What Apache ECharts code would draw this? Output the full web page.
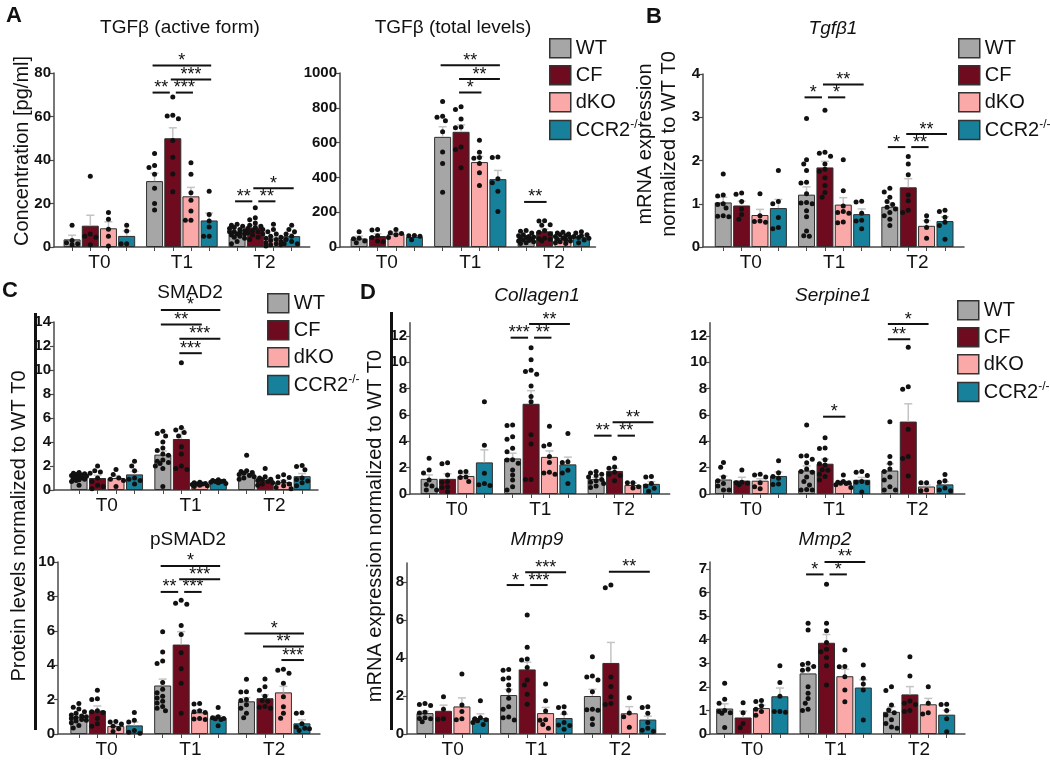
<!DOCTYPE html>
<html>
<head>
<meta charset="utf-8">
<script src="https://cdn.jsdelivr.net/npm/echarts@6/dist/echarts.min.js"></script>
<style>
  html, body { margin: 0; padding: 0; background: #fff; }
  #main { width: 1050px; height: 763px; }
</style>
</head>
<body>
<div id="main"></div>
<script>
var FONT = 'Liberation Sans, Arial, sans-serif';
var groups = ['WT', 'CF', 'dKO', 'CCR2-/-'];
var times = ['T0', 'T1', 'T2'];
var colors = ['#a6a6a6', '#6e0b1f', '#fba8a8', '#17809b'];

// rows: WT, CF, dKO, CCR2-/- ; columns: T0, T1, T2
// significance rows: [time, from group, to group, bracket height, stars]

// TGFb active form [pg/ml]
var activeTicks = [0, 20, 40, 60, 80];
var activeMean = [[3.5, 30.3, 6.5], [9.8, 50, 9.0], [8.6, 23.3, 4.0], [5.1, 12.2, 5.0]];
var activeSem = [[1.9, 3.6, 0.6], [4.8, 4.8, 1.0], [3.0, 4.1, 0.7], [2.3, 3.4, 1.0]];
var activePts = [
  [[10, 3, 2, 1.5, 1], [43, 37.5, 36.5, 33.5, 27, 20, 17], [10.5, 10, 9.5, 9, 8.5, 8, 7.5, 7, 7, 6.5, 6, 6, 5.5, 5, 4.5, 4, 2.5, 1.5]],
  [[32.5, 6, 5, 4.5, 1], [69, 60.6, 60.2, 59, 49, 41.3, 33.6, 25.4], [18, 13.5, 12.5, 11, 10, 9.5, 9, 8.5, 8, 7.5, 7, 6.5, 6, 5.5, 4.5, 3.5]],
  [[15.9, 12.8, 8.2, 5, 0.5], [38.7, 33.5, 25, 21.5, 16.5, 12.3, 12.3], [10.5, 8, 7, 6, 5, 4.5, 4, 3.5, 3, 2.5, 2, 1.5, 1, 1, 0.5]],
  [[10, 7.4, 1.5, 1.5], [25.6, 15, 12, 9.2, 5, 5], [10, 8, 7, 6, 5, 3.5, 2.5, 1.5, 1.5]]
];
var activeSig = [[1, 0, 3, 83.5, '*'], [1, 1, 3, 77, '***'], [1, 0, 1, 71, '**'], [1, 1, 2, 71, '***'],
  [2, 0, 1, 21, '**'], [2, 1, 2, 21, '**'], [2, 1, 3, 27, '*']];

// TGFb total levels
var totalTicks = [0, 200, 400, 600, 800, 1000];
var totalMean = [[49, 633, 54], [63, 662, 90], [77, 488, 53], [58, 390, 59]];
var totalSem = [[14, 58, 6], [13, 40, 13], [9, 32, 5], [6, 50, 7]];
var totalPts = [
  [[88, 50, 48, 35, 25], [836, 752, 745, 726, 662, 546, 480, 314], [95, 90, 80, 70, 65, 60, 58, 55, 50, 45, 40, 38, 35, 30, 25, 20]],
  [[100, 97, 65, 55, 35, 30], [806, 790, 735, 690, 685, 575, 560, 455], [151, 150, 128, 125, 95, 85, 75, 50, 48, 45, 35]],
  [[100, 82, 78, 70, 55], [614, 545, 515, 510, 480, 427, 353], [85, 80, 75, 70, 65, 60, 55, 50, 45, 40, 35, 30, 25, 20]],
  [[66, 64, 62, 42], [517, 515, 392, 369, 320, 204], [88, 80, 70, 65, 60, 55, 50, 40, 25]]
];
var totalSig = [[1, 0, 3, 1044, '**'], [1, 1, 3, 965, '**'], [1, 1, 2, 888, '*'], [2, 0, 1, 259, '**']];

// Tgfb1 mRNA
var tgfTicks = [0, 1, 2, 3, 4];
var tgfMean = [[1.03, 1.21, 0.93], [0.96, 1.84, 1.38], [0.74, 0.98, 0.49], [0.9, 0.76, 0.6]];
var tgfSem = [[0.12, 0.18, 0.09], [0.1, 0.14, 0.2], [0.13, 0.16, 0.12], [0.2, 0.12, 0.1]];
var tgfPts = [
  [[1.69, 1.2, 1.18, 1.0, 0.98, 0.9, 0.72, 0.71, 0.7], [2.97, 2.02, 1.92, 1.77, 1.5, 1.48, 1.23, 1.03, 1.02, 1.0, 0.84, 0.7, 0.37, 0.26, 0.25], [1.36, 1.27, 1.15, 1.05, 0.98, 0.92, 0.88, 0.8, 0.72, 0.64, 0.5]],
  [[1.25, 1.22, 1.05, 0.88, 0.75, 0.64], [3.16, 2.19, 2.17, 2.1, 1.92, 1.8, 1.75, 1.6, 1.42, 1.26, 1.15], [2.09, 1.92, 1.67, 1.2, 1.07, 0.85, 0.8]],
  [[1.23, 0.72, 0.6, 0.59, 0.57], [2.02, 1.3, 0.95, 0.82, 0.8, 0.78, 0.58, 0.56], [0.72, 0.6, 0.45, 0.2]],
  [[1.77, 1.05, 1.0, 0.68, 0.45, 0.42], [1.06, 1.04, 0.78, 0.62, 0.6, 0.42], [0.85, 0.82, 0.69, 0.57, 0.5, 0.18]]
];
var tgfSig = [[1, 0, 1, 3.46, '*'], [1, 1, 2, 3.46, '*'], [1, 1, 3, 3.76, '**'],
  [2, 0, 1, 2.31, '*'], [2, 1, 2, 2.31, '**'], [2, 1, 3, 2.61, '**']];

// SMAD2 protein
var smadTicks = [0, 2, 4, 6, 8, 10, 12, 14];
var smadMean = [[1.05, 2.95, 1.4], [1.0, 4.25, 0.85], [1.0, 0.5, 0.65], [1.3, 0.7, 1.15]];
var smadSem = [[0.08, 0.3, 0.18], [0.22, 0.85, 0.15], [0.2, 0.04, 0.15], [0.25, 0.03, 0.22]];
var smadPts = [
  [[1.45, 1.4, 1.35, 1.3, 1.25, 1.2, 1.15, 1.1, 1.05, 1.0, 0.95, 0.9, 0.85, 0.8, 0.7, 0.4], [4.9, 4.7, 4.5, 4.0, 3.5, 3.3, 3.0, 2.9, 2.5, 2.4, 2.3, 2.2, 2.0, 1.8, 0.3], [2.9, 1.6, 1.55, 1.45, 1.4, 1.3, 1.2, 1.1, 1.0, 0.9]],
  [[2.0, 1.6, 1.5, 1.4, 1.0, 0.7, 0.4, 0.3, 0.1], [10.6, 5.2, 5.0, 4.8, 4.5, 3.6, 3.0, 2.0, 1.8, 1.7], [1.8, 1.1, 1.0, 0.9, 0.85, 0.8, 0.7, 0.6, 0.5, 0.4]],
  [[1.7, 1.3, 1.0, 0.9, 0.8, 0.3], [0.65, 0.6, 0.55, 0.5, 0.5, 0.45, 0.4, 0.35, 0.3], [1.27, 1.1, 1.05, 0.7, 0.6, 0.5, 0.35, 0.2, 0.1]],
  [[2.4, 2.0, 1.6, 1.0, 0.9, 0.8, 0.5], [0.85, 0.8, 0.75, 0.7, 0.7, 0.65, 0.6, 0.55], [2.05, 1.95, 1.68, 1.0, 0.87, 0.75, 0.6, 0.35]]
];
var smadSig = [[1, 0, 3, 15.0, '*'], [1, 0, 2, 13.8, '**'], [1, 1, 3, 12.6, '***'], [1, 1, 2, 11.4, '***']];

// pSMAD2 protein
var psmadTicks = [0, 2, 4, 6, 8, 10];
var psmadMean = [[1.0, 2.82, 1.9], [1.36, 5.2, 2.08], [0.46, 1.26, 2.42], [0.5, 0.94, 0.62]];
var psmadSem = [[0.09, 0.37, 0.22], [0.27, 0.75, 0.2], [0.08, 0.14, 0.35], [0.2, 0.12, 0.2]];
var psmadPts = [
  [[1.78, 1.55, 1.45, 1.3, 1.2, 1.1, 1.05, 1.0, 0.95, 0.9, 0.85, 0.8, 0.75, 0.65, 0.5, 0.35], [5.95, 4.77, 4.25, 4.1, 3.0, 2.6, 2.4, 2.2, 2.1, 1.9, 1.8, 1.6, 1.5, 1.35], [3.18, 2.46, 2.44, 2.0, 1.95, 1.7, 1.5, 1.2, 0.95]],
  [[2.55, 2.05, 2.0, 1.35, 1.3, 1.25, 0.9, 0.6, 0.45], [7.78, 7.6, 7.55, 6.31, 5.79, 4.73, 3.8, 2.95, 1.2], [3.2, 2.75, 2.55, 2.2, 1.95, 1.9, 1.6, 1.55, 1.5]],
  [[0.73, 0.7, 0.58, 0.45, 0.3, 0.15], [1.78, 1.75, 1.35, 1.3, 1.25, 0.9, 0.87, 0.85], [3.76, 3.7, 3.53, 2.95, 2.17, 1.59, 1.2, 0.91]],
  [[1.25, 0.8, 0.7, 0.2, 0.1, 0.05], [1.54, 1.0, 0.95, 0.9, 0.88, 0.85, 0.48], [1.24, 1.2, 0.6, 0.4, 0.33, 0.3, 0.2]]
];
var psmadSig = [[1, 0, 3, 9.77, '*'], [1, 1, 3, 9.0, '***'], [1, 0, 1, 8.26, '**'], [1, 1, 2, 8.26, '***'],
  [2, 0, 3, 5.85, '*'], [2, 1, 3, 5.08, '**'], [2, 2, 3, 4.3, '***']];

// Collagen1 mRNA
var colTicks = [0, 2, 4, 6, 8, 10, 12];
var colMean = [[1.15, 2.7, 1.13], [1.15, 6.85, 1.75], [1.37, 2.82, 0.68], [2.4, 2.25, 0.77]];
var colSem = [[0.3, 0.4, 0.12], [0.38, 1.0, 0.2], [0.15, 0.45, 0.15], [0.95, 0.55, 0.17]];
var colPts = [
  [[2.71, 1.82, 1.6, 1.06, 0.73, 0.6, 0.3, 0.3], [5.24, 5.2, 4.35, 4.15, 3.47, 3.2, 2.6, 2.58, 2.33, 1.82, 1.44, 1.06, 0.56, 0.3], [1.7, 1.6, 1.5, 1.4, 1.3, 1.1, 1.0, 0.9, 0.8, 0.6, 0.5]],
  [[2.38, 2.3, 1.44, 0.94, 0.9, 0.56, 0.5, 0.18], [11.1, 10.2, 9.4, 9.3, 9.1, 8.2, 7.4, 7.0, 4.5, 3.8, 1.1, 1.1], [2.71, 2.05, 1.95, 1.65, 1.5, 1.4, 1.0]],
  [[1.7, 1.68, 1.3, 1.25, 0.94], [5.15, 3.75, 3.65, 2.85, 2.4, 1.65, 1.6, 1.5], [0.86, 0.85, 0.55, 0.45]],
  [[7.0, 3.7, 1.57, 0.8, 0.7, 0.65], [4.6, 2.45, 2.4, 1.8, 1.6, 0.8], [1.32, 1.3, 0.8, 0.6, 0.43, 0.2]]
];
var colSig = [[1, 0, 1, 11.87, '***'], [1, 1, 2, 11.87, '**'], [1, 1, 3, 12.9, '**'],
  [2, 0, 1, 4.43, '**'], [2, 1, 2, 4.43, '**'], [2, 1, 3, 5.44, '**']];

// Serpine1 mRNA
var serTicks = [0, 2, 4, 6, 8, 10, 12];
var serMean = [[1.1, 1.78, 1.78], [1.02, 2.3, 5.5], [1.01, 0.87, 0.57], [1.37, 1.08, 0.73]];
var serSem = [[0.25, 0.35, 0.5], [0.25, 0.35, 1.35], [0.15, 0.1, 0.12], [0.3, 0.18, 0.2]];
var serPts = [
  [[2.4, 2.03, 1.3, 1.0, 0.8, 0.6, 0.3, 0.3], [5.24, 2.9, 2.88, 2.63, 2.38, 1.9, 1.7, 1.65, 1.3, 0.94, 0.68, 0.35, 0.3, 0.3], [5.49, 2.84, 2.33, 1.9, 1.7, 1.3, 1.06, 0.56, 0.3, 0.3]],
  [[1.82, 0.9, 0.85, 0.82, 0.7], [4.28, 3.5, 3.45, 2.6, 2.3, 2.2, 1.85, 1.8, 1.5, 1.32, 1.06], [11.14, 8.15, 7.95, 4.91, 2.84, 2.7, 1.37]],
  [[1.5, 1.45, 1.3, 0.86, 0.56, 0.4], [1.44, 0.95, 0.9, 0.85, 0.82, 0.8, 0.7, 0.5], [0.86, 0.85, 0.3, 0.25]],
  [[2.53, 1.62, 1.32, 1.2, 0.75, 0.72], [1.7, 1.65, 1.4, 0.95, 0.9, 0.85, 0.15], [1.49, 1.0, 0.9, 0.45, 0.3, 0.25]]
];
var serSig = [[1, 1, 2, 5.87, '*'], [2, 0, 1, 11.75, '**'], [2, 0, 2, 12.9, '*']];

// Mmp9 mRNA
var mmp9Ticks = [0, 2, 4, 6, 8];
var mmp9Mean = [[1.1, 2.05, 2.0], [1.22, 3.4, 3.74], [1.45, 1.1, 1.09], [0.84, 0.84, 0.76]];
var mmp9Sem = [[0.1, 0.3, 0.35], [0.3, 0.38, 1.08], [0.45, 0.3, 0.35], [0.22, 0.2, 0.18]];
var mmp9Pts = [
  [[1.6, 1.55, 1.5, 1.15, 1.1, 0.85, 0.82, 0.8, 0.65], [3.4, 3.35, 2.95, 2.9, 2.58, 2.3, 1.88, 1.44, 1.3, 0.9, 0.85, 0.74], [4.07, 3.05, 3.0, 2.84, 2.23, 1.3, 1.28, 1.25, 0.8, 0.5]],
  [[1.96, 1.3, 0.8, 0.77], [6.26, 4.56, 3.95, 3.9, 3.5, 2.84, 2.58, 2.09, 1.56], [7.84, 7.7, 3.0, 2.5, 1.96, 1.6, 1.55]],
  [[3.16, 1.53, 1.18, 0.8, 0.75], [2.63, 1.75, 1.21, 0.75, 0.72, 0.5, 0.3], [1.91, 1.1, 0.91, 0.35]],
  [[1.75, 0.85, 0.8, 0.75, 0.7, 0.6, 0.5], [1.44, 1.4, 1.1, 0.6, 0.48, 0.45, 0.25], [1.44, 1.4, 1.09, 0.6, 0.3, 0.2, 0.15]]
];
var mmp9Sig = [[1, 0, 1, 7.84, '*'], [1, 1, 2, 7.84, '***'], [1, 1, 3, 8.51, '***'], [2, 1, 3, 8.54, '**']];

// Mmp2 mRNA
var mmp2Ticks = [0, 1, 2, 3, 4, 5, 6, 7];
var mmp2Mean = [[1.08, 2.57, 0.94], [0.7, 3.87, 1.68], [1.1, 2.45, 1.26], [1.6, 1.97, 0.82]];
var mmp2Sem = [[0.2, 0.3, 0.22], [0.27, 0.35, 0.33], [0.12, 0.3, 0.25], [0.35, 0.33, 0.18]];
var mmp2Pts = [
  [[2.15, 1.47, 1.3, 1.0, 0.95, 0.9, 0.88, 0.28], [4.7, 4.41, 3.0, 2.95, 2.86, 2.75, 2.7, 2.0, 1.73, 1.51, 1.3, 1.05, 1.0], [2.0, 1.84, 1.23, 1.02, 0.9, 0.81, 0.6, 0.45, 0.3, 0.24]],
  [[1.33, 0.9, 0.45, 0.27], [6.35, 4.7, 4.38, 3.88, 3.6, 3.49, 3.25, 2.89, 2.08], [3.28, 2.46, 1.4, 1.3, 1.25, 1.0, 0.95]],
  [[1.42, 1.38, 1.2, 1.05, 0.95, 0.8], [3.56, 2.86, 2.85, 2.43, 1.87, 1.37], [2.0, 1.3, 0.9, 0.85]],
  [[2.89, 2.18, 1.6, 0.95, 0.95, 0.92], [2.93, 2.36, 2.12, 1.87, 0.59], [1.26, 1.25, 1.0, 0.65, 0.1]]
];
var mmp2Sig = [[1, 0, 1, 6.77, '*'], [1, 1, 2, 6.77, '*'], [1, 1, 3, 7.3, '**']];

// layout of the panels (pixels)
var panels = [
  {mean: activeMean, sem: activeSem, pts: activePts, sig: activeSig, ticks: activeTicks, yMax: 80, left: 54, topY: 73, zeroY: 247, band: 82.5, xMin: -0.55, xMax: 2.55},
  {mean: totalMean, sem: totalSem, pts: totalPts, sig: totalSig, ticks: totalTicks, yMax: 1000, left: 340, topY: 73, zeroY: 247, band: 83.5, xMin: -0.56, xMax: 2.5},
  {mean: tgfMean, sem: tgfSem, pts: tgfPts, sig: tgfSig, ticks: tgfTicks, yMax: 4, left: 703, topY: 74, zeroY: 247, band: 83.3, xMin: -0.574, xMax: 2.56},
  {mean: smadMean, sem: smadSem, pts: smadPts, sig: smadSig, ticks: smadTicks, yMax: 14, left: 54, topY: 322, zeroY: 490, band: 83.8, xMin: -0.63, xMax: 2.52},
  {mean: psmadMean, sem: psmadSem, pts: psmadPts, sig: psmadSig, ticks: psmadTicks, yMax: 10, left: 58, topY: 562, zeroY: 734, band: 83.8, xMin: -0.58, xMax: 2.546},
  {mean: colMean, sem: colSem, pts: colPts, sig: colSig, ticks: colTicks, yMax: 13, left: 410, topY: 322.8, zeroY: 494, band: 83.5, xMin: -0.56, xMax: 2.55},
  {mean: serMean, sem: serSem, pts: serPts, sig: serSig, ticks: serTicks, yMax: 13, left: 710, topY: 322.8, zeroY: 494, band: 83.2, xMin: -0.493, xMax: 2.57},
  {mean: mmp9Mean, sem: mmp9Sem, pts: mmp9Pts, sig: mmp9Sig, ticks: mmp9Ticks, yMax: 9, left: 407, topY: 563, zeroY: 734, band: 83.7, xMin: -0.546, xMax: 2.54},
  {mean: mmp2Mean, sem: mmp2Sem, pts: mmp2Pts, sig: mmp2Sig, ticks: mmp2Ticks, yMax: 7.3, left: 710, topY: 561.9, zeroY: 734, band: 83.4, xMin: -0.507, xMax: 2.55}
];

var offsets = [-0.331, -0.11, 0.11, 0.331];
var AXIS = '#4a4a4a';

// spread the dots of one column sideways so they do not sit on top of each other
function swarm(vals, pxPerUnit) {
  var cands = [0, -2.8, 2.8, -5.6, 5.6, -7.5, 7.5];
  var placed = [];
  return vals.map(function (v) {
    var y = v * pxPerUnit, best = 0, bestD = -1;
    for (var c = 0; c < cands.length; c++) {
      var d = Infinity;
      placed.forEach(function (p) {
        d = Math.min(d, Math.sqrt(Math.pow(p[0] - cands[c], 2) + Math.pow(p[1] - y, 2)));
      });
      if (d >= 5) { best = cands[c]; bestD = d; break; }
      if (d > bestD) { bestD = d; best = cands[c]; }
    }
    placed.push([best, y]);
    return best;
  });
}

var grid = [], xAxis = [], yAxis = [], series = [];

panels.forEach(function (p, i) {
  var width = p.band * (p.xMax - p.xMin);
  var pxPerUnit = (p.zeroY - p.topY) / p.yMax;
  var barW = Math.round(p.band * 0.205);
  grid.push({left: p.left, top: p.topY, width: width, height: p.zeroY - p.topY});

  var barX = [];
  times.forEach(function (t, g) { offsets.forEach(function (o) { barX.push(g + o); }); });

  xAxis.push({
    gridIndex: i, type: 'value', min: p.xMin, max: p.xMax,
    axisLine: {show: true, onZero: false, lineStyle: {color: AXIS, width: 1.5}},
    axisTick: {show: true, customValues: barX, length: 4, lineStyle: {color: AXIS, width: 1}},
    axisLabel: {customValues: [0, 1, 2], formatter: function (v) { return times[Math.round(v)]; },
      fontSize: 19, color: '#111', margin: 6, fontFamily: FONT},
    splitLine: {show: false}
  });
  yAxis.push({
    gridIndex: i, type: 'value', min: 0, max: p.yMax,
    axisLine: {show: true, onZero: false, lineStyle: {color: AXIS, width: 1.5}},
    axisTick: {show: true, customValues: p.ticks, length: 4, lineStyle: {color: AXIS, width: 1.2}},
    axisLabel: {customValues: p.ticks, formatter: function (v) { return String(v); },
      fontSize: 15, fontWeight: 'bold', color: '#111', margin: 3, fontFamily: FONT},
    splitLine: {show: false}
  });

  var errData = [], dots = [];
  groups.forEach(function (name, k) {
    series.push({
      type: 'bar', name: name, xAxisIndex: i, yAxisIndex: i,
      barWidth: barW, barGap: '-100%', z: 2,
      itemStyle: {color: colors[k], borderColor: '#2e2e2e', borderWidth: 1},
      emphasis: {disabled: true},
      data: times.map(function (t, g) { return [g + offsets[k], p.mean[k][g]]; })
    });
    times.forEach(function (t, g) {
      var x = g + offsets[k];
      errData.push([x, p.mean[k][g], p.sem[k][g]]);
      var dx = swarm(p.pts[k][g], pxPerUnit);
      p.pts[k][g].forEach(function (v, j) { dots.push([x + dx[j] / p.band, v]); });
    });
  });

  series.push({
    type: 'custom', xAxisIndex: i, yAxisIndex: i, z: 3, silent: true,
    data: errData,
    renderItem: function (params, api) {
      var a = api.coord([api.value(0), api.value(1)]);
      var b = api.coord([api.value(0), api.value(1) + api.value(2)]);
      var st = {stroke: '#c4c4c4', lineWidth: 1.5};
      return {type: 'group', children: [
        {type: 'line', shape: {x1: a[0], y1: a[1], x2: b[0], y2: b[1]}, style: st},
        {type: 'line', shape: {x1: b[0] - 4, y1: b[1], x2: b[0] + 4, y2: b[1]}, style: st}
      ]};
    }
  });

  series.push({
    type: 'scatter', xAxisIndex: i, yAxisIndex: i, z: 4, silent: true,
    symbolSize: 5, itemStyle: {color: '#111', opacity: 1},
    data: dots
  });

  // brackets that meet at a bar at the same height leave a small gap there
  var sigData = p.sig.map(function (s) {
    var meetStart = p.sig.some(function (o) { return o !== s && o[0] === s[0] && o[3] === s[3] && o[2] === s[1]; });
    var meetEnd = p.sig.some(function (o) { return o !== s && o[0] === s[0] && o[3] === s[3] && o[1] === s[2]; });
    return [s[0] + offsets[s[1]], s[0] + offsets[s[2]], s[3], meetStart ? 1 : 0, meetEnd ? 1 : 0];
  });
  series.push({
    type: 'custom', xAxisIndex: i, yAxisIndex: i, z: 5, silent: true, clip: false,
    data: sigData,
    renderItem: function (params, api) {
      var a = api.coord([api.value(0), api.value(2)]);
      var b = api.coord([api.value(1), api.value(2)]);
      var x1 = a[0] - 2 + api.value(3) * 5, x2 = b[0] + 2 - api.value(4) * 5;
      var label = p.sig[params.dataIndex][4];
      return {type: 'group', children: [
        {type: 'line', shape: {x1: x1, y1: a[1], x2: x2, y2: b[1]}, style: {stroke: '#111', lineWidth: 2}},
        {type: 'text', style: {text: label, x: (x1 + x2) / 2, y: a[1] - 4.5, fill: '#111',
          font: '18px ' + FONT, align: 'center', verticalAlign: 'middle'}}
      ]};
    }
  });
});

function legendAt(left, top) {
  return {
    orient: 'vertical', left: left, top: top, itemWidth: 21, itemHeight: 19, itemGap: 6.5,
    icon: 'rect', selectedMode: false, data: groups,
    itemStyle: {borderColor: '#333', borderWidth: 1.5},
    formatter: function (n) { return n === 'CCR2-/-' ? 'CCR2{sup|-/-}' : n; },
    textStyle: {fontSize: 20, color: '#111', fontFamily: FONT,
      rich: {sup: {fontSize: 12, verticalAlign: 'top', lineHeight: 22, fontFamily: FONT}}}
  };
}

function txt(x, y, s, font, rot) {
  return {type: 'text', x: x, y: y, rotation: rot || 0, silent: true,
    style: {text: s, font: font, fill: '#111', align: 'center', verticalAlign: 'middle'}};
}

var T = '19px ' + FONT, TI = 'italic 19px ' + FONT, L = 'bold 22px ' + FONT, Y = '20px ' + FONT;
var graphic = [
  txt(14, 16, 'A', L), txt(654, 17, 'B', L), txt(10, 291, 'C', L), txt(368, 293, 'D', L),
  txt(180, 28, 'TGFβ (active form)', T), txt(453, 28, 'TGFβ (total levels)', T),
  txt(833, 29, 'Tgfβ1', TI), txt(190, 293, 'SMAD2', T), txt(188, 540, 'pSMAD2', T),
  txt(537, 296, 'Collagen1', TI), txt(833, 296, 'Serpine1', TI),
  txt(537, 540, 'Mmp9', TI), txt(825, 540, 'Mmp2', TI),
  txt(22, 151, 'Concentration [pg/ml]', Y, Math.PI / 2),
  txt(645, 144, 'mRNA expression', Y, Math.PI / 2),
  txt(669, 144, 'normalized to WT T0', Y, Math.PI / 2),
  txt(19, 526, 'Protein levels normalized to WT T0', Y, Math.PI / 2),
  txt(375, 526, 'mRNA expression normalized to WT T0', Y, Math.PI / 2),
  {type: 'line', silent: true, shape: {x1: 35.5, y1: 313, x2: 35.5, y2: 730}, style: {stroke: '#111', lineWidth: 3}},
  {type: 'line', silent: true, shape: {x1: 391.5, y1: 312, x2: 391.5, y2: 730}, style: {stroke: '#111', lineWidth: 3}}
];

var myChart = echarts.init(document.getElementById('main'), null, {renderer: 'canvas'});
option = {
  backgroundColor: '#fff',
  animation: false,
  textStyle: {fontFamily: FONT},
  grid: grid,
  xAxis: xAxis,
  yAxis: yAxis,
  legend: [legendAt(544, 33), legendAt(953, 33), legendAt(262, 288), legendAt(952, 295)],
  graphic: graphic,
  series: series
};
myChart.setOption(option);
</script>
</body>
</html>
